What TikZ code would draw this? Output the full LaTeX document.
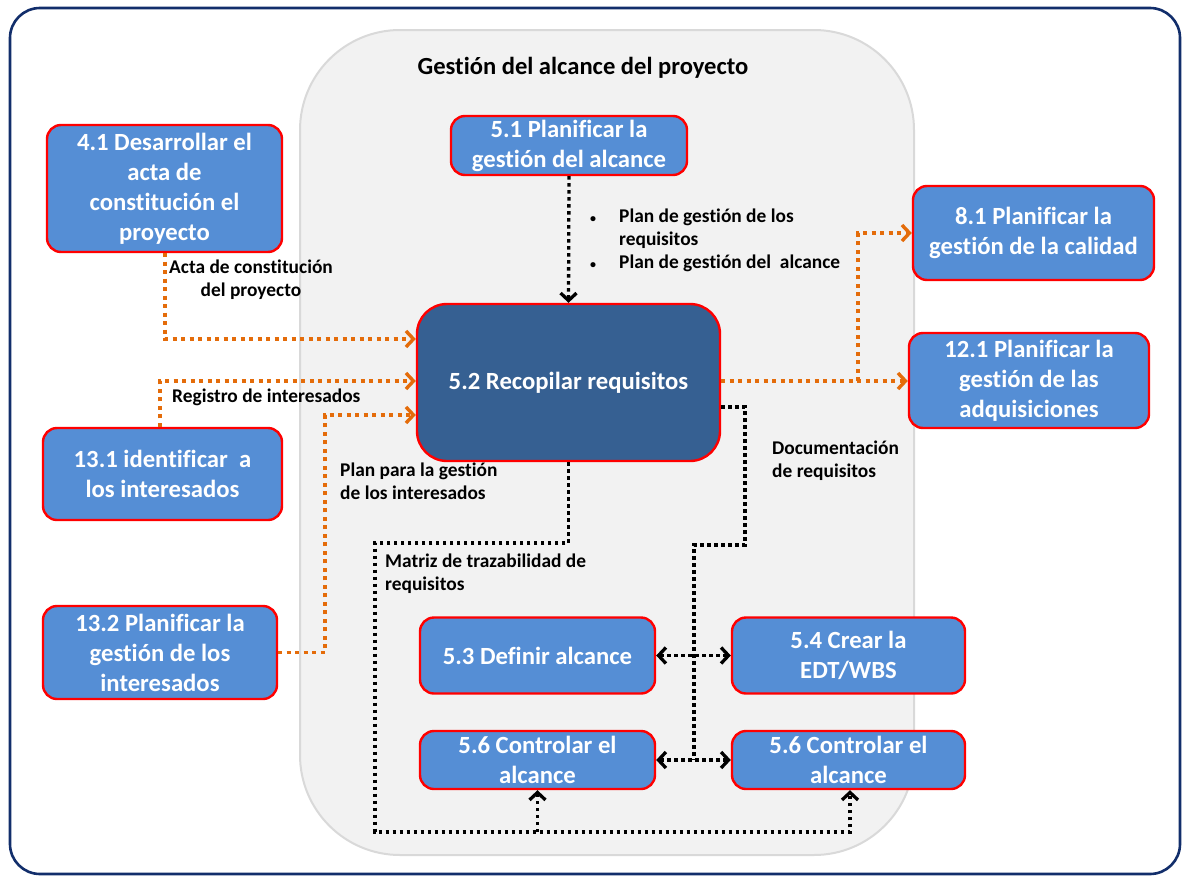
\documentclass[tikz,border=0pt]{standalone}
\usepackage{fontspec}
\setmainfont{Carlito}[Ligatures=NoCommon]
\usetikzlibrary{arrows.meta}

\definecolor{boxblue}{HTML}{558ED5}
\definecolor{coreblue}{HTML}{366092}
\definecolor{flowor}{HTML}{E46C0A}
\definecolor{framenavy}{HTML}{122E6B}
\definecolor{groupfill}{HTML}{F2F2F2}
\definecolor{groupline}{HTML}{D9D9D9}

\newcommand{\smallbul}{{\fontsize{12}{12}\selectfont •}}

\begin{document}
\begin{tikzpicture}[x=1pt,y=-1pt,
  proc/.style={draw=red, line width=2.4pt, fill=boxblue, rounded corners=14pt,
    text=white, align=center, inner sep=0pt,
    font=\bfseries\fontsize{24.7}{30}\selectfont},
  core/.style={proc, fill=coreblue, rounded corners=30pt},
  lbl/.style={text=black, inner sep=0pt, font=\bfseries\fontsize{19.4}{23}\selectfont},
  tip/.style={-{Straight Barb[length=7.5pt,width=16pt]}},
  bitip/.style={{Straight Barb[length=7.5pt,width=16pt]}-{Straight Barb[length=7.5pt,width=16pt]}},
  blk/.style={draw=black, line width=3.3pt, dash pattern=on 3.5pt off 3.5pt},
  org/.style={draw=flowor, line width=3.4pt, dash pattern=on 4pt off 4.5pt},
]
\useasboundingbox (0,0) rectangle (1183,878);

% outer frame and scope group
\draw[framenavy, line width=2.6pt, fill=white, rounded corners=30pt] (10,8) rectangle (1180,874);
\draw[groupline, line width=2pt, fill=groupfill, rounded corners=100pt] (300,30) rectangle (914,855);
\node[lbl, font=\bfseries\fontsize{24.6}{29}\selectfont] (title) at (583,68) {Gestión del alcance del proyecto};

% processes
\node[proc, minimum width=235pt, minimum height=127pt] (n41) at (164.5,188.5)
  {4.1 Desarrollar el\\acta de\\constitución el\\proyecto};
\node[proc, minimum width=236pt, minimum height=59pt] (n51) at (569,145.5)
  {5.1 Planificar la\\gestión del alcance};
\node[proc, minimum width=241pt, minimum height=94pt] (n81) at (1033.5,233)
  {8.1 Planificar la\\gestión de la calidad};
\node[proc, minimum width=240pt, minimum height=95pt] (n121) at (1029,380.5)
  {12.1 Planificar la\\gestión de las\\adquisiciones};
\node[core, minimum width=303pt, minimum height=157pt] (n52) at (568.5,382.5)
  {5.2 Recopilar requisitos};
\node[proc, minimum width=239pt, minimum height=92pt] (n131) at (162.5,474)
  {13.1 identificar\ \ a\\los interesados};
\node[proc, minimum width=234pt, minimum height=93pt] (n132) at (160,652.5)
  {13.2 Planificar la\\gestión de los\\interesados};
\node[proc, minimum width=235pt, minimum height=76pt] (n53) at (537.5,655.5)
  {5.3 Definir alcance};
\node[proc, minimum width=233pt, minimum height=76pt] (n54) at (848.5,655.5)
  {5.4 Crear la\\EDT/WBS};
\node[proc, minimum width=235pt, minimum height=58pt] (n56a) at (537.5,760)
  {5.6 Controlar el\\alcance};
\node[proc, minimum width=233pt, minimum height=58pt] (n56b) at (848.5,760)
  {5.6 Controlar el\\alcance};

% routing points
\coordinate (yacta) at (0,339);
\coordinate (yreg) at (0,381);
\coordinate (yplan) at (0,415);
\coordinate (xplan) at (325,0);
\coordinate (xsplit) at (858,0);
\coordinate (ydoc) at (0,407);
\coordinate (d1) at (745,545);
\coordinate (d2) at (694,760);
\coordinate (m1) at (375,543);
\coordinate (m2) at (375,832);

% inputs to 5.2
\draw[blk, tip] (n51.south) -- (n52.north);
\draw[org, tip] ([xshift=0.5pt]n41.south) |- (n52.west |- yacta);
\draw[org, tip] ([xshift=-2.5pt]n131.north) |- (n52.west |- yreg);
\draw[org, tip] (n132.east) -| (xplan |- yplan) -- (n52.west |- yplan);

% outputs of 5.2
\draw[org, tip] (n52.east |- yreg) -- (n121.west |- yreg);
\draw[org, tip] (xsplit |- yreg) |- (n81.west);
\draw[blk] (n52.east |- ydoc) -| (d1) -| (d2);
\draw[blk, tip] (n52.south) |- (m1) -- (m2) -| ([xshift=1.5pt]n56b.south);
\draw[blk, tip] (n56a.south |- m2) -- (n56a.south);

% exchanges among the lower processes
\draw[blk, bitip] (n53.east) -- (n54.west);
\draw[blk, bitip] (n56a.east) -- (n56b.west);

% connector labels
\node[lbl, anchor=north west] (bul) at (590,206)
  {\begin{tabular}{@{}l@{\hspace{23pt}}l@{}}
   \smallbul & Plan de gestión de los\\
             & requisitos\\
   \smallbul & Plan de gestión del\ \ alcance
   \end{tabular}};
\node[lbl, align=center] (lacta) at (251,280) {Acta de constitución\\del proyecto};
\node[lbl, anchor=west] (lreg) at (172,397) {Registro de interesados};
\node[lbl, align=left, anchor=west] (lplan) at (340,481) {Plan para la gestión\\de los interesados};
\node[lbl, align=left, anchor=west] (ldoc) at (772,461) {Documentación\\de requisitos};
\node[lbl, align=left, anchor=west] (lmat) at (385,574) {Matriz de trazabilidad de\\requisitos};
\end{tikzpicture}
\end{document}
